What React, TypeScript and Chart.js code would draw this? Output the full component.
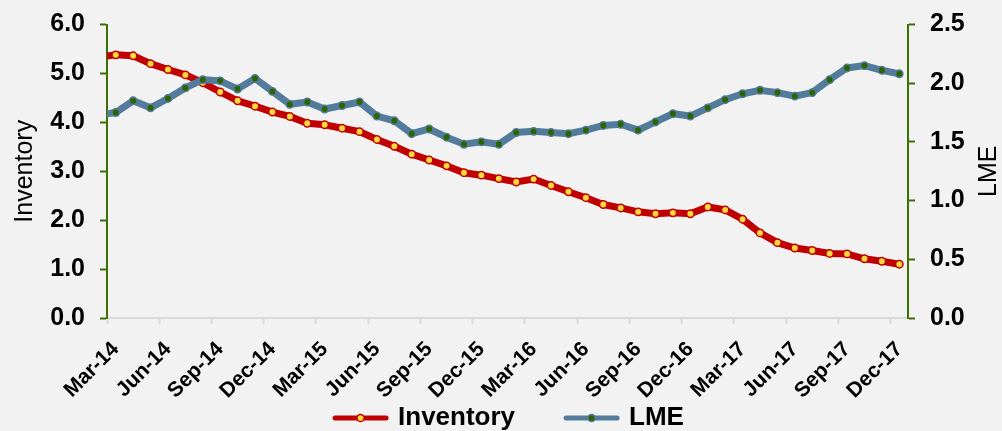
import React, { useEffect, useRef } from 'react';
import { Chart, registerables } from 'chart.js';

Chart.register(...registerables);

const months = [
  'Feb-14', 'Mar-14', 'Apr-14', 'May-14', 'Jun-14', 'Jul-14', 'Aug-14', 'Sep-14', 'Oct-14', 'Nov-14', 'Dec-14',
  'Jan-15', 'Feb-15', 'Mar-15', 'Apr-15', 'May-15', 'Jun-15', 'Jul-15', 'Aug-15', 'Sep-15', 'Oct-15', 'Nov-15', 'Dec-15',
  'Jan-16', 'Feb-16', 'Mar-16', 'Apr-16', 'May-16', 'Jun-16', 'Jul-16', 'Aug-16', 'Sep-16', 'Oct-16', 'Nov-16', 'Dec-16',
  'Jan-17', 'Feb-17', 'Mar-17', 'Apr-17', 'May-17', 'Jun-17', 'Jul-17', 'Aug-17', 'Sep-17', 'Oct-17', 'Nov-17', 'Dec-17',
];

const inventory = [
  5.33, 5.38, 5.36, 5.20, 5.08, 4.97, 4.81, 4.62, 4.44, 4.33, 4.21, 4.12, 3.98, 3.95, 3.88, 3.81,
  3.65, 3.51, 3.35, 3.23, 3.11, 2.97, 2.92, 2.85, 2.78, 2.84, 2.71, 2.58, 2.46, 2.32, 2.25, 2.17,
  2.13, 2.15, 2.13, 2.27, 2.21, 2.02, 1.74, 1.54, 1.43, 1.38, 1.32, 1.31, 1.21, 1.16, 1.10,
];

const lme = [
  1.73, 1.75, 1.85, 1.79, 1.87, 1.96, 2.03, 2.02, 1.95, 2.04, 1.93, 1.82, 1.84, 1.78, 1.81, 1.84,
  1.72, 1.68, 1.57, 1.61, 1.54, 1.48, 1.50, 1.48, 1.58, 1.59, 1.58, 1.57, 1.60, 1.64, 1.65, 1.60,
  1.67, 1.74, 1.72, 1.79, 1.86, 1.91, 1.94, 1.92, 1.89, 1.92, 2.03, 2.13, 2.15, 2.11, 2.08,
];

const leftTitle = 'Inventory';
const rightTitle = 'LME';
const leftTicks = [0, 1, 2, 3, 4, 5, 6];
const rightTicks = [0, 0.5, 1, 1.5, 2, 2.5];
const firstShown = 1; // Mar-14
const tickEvery = 3;

const FONT = '"Liberation Sans", Arial, Helvetica, sans-serif';
const RED = '#C00000';
const YELLOW = '#FFD83C';
const BLUE = '#527B9C';
const DKGREEN = '#2C6400';
const AXISGREEN = '#3C7000';
const GRAY = '#D9D9D9';
const BG = '#F2F2F2';

export default function App() {
  const ref = useRef<HTMLCanvasElement | null>(null);

  useEffect(() => {
    if (!ref.current) return;
    Chart.defaults.font.family = FONT;
    Chart.defaults.color = '#000';

    const rightTitlePlugin = {
      id: 'rightTitle',
      afterDraw(chart: any) {
        const s = chart.scales.y1;
        const area = chart.chartArea;
        const ctx = chart.ctx;
        ctx.save();
        ctx.translate(s.right - 13, (area.top + area.bottom) / 2);
        ctx.rotate(-Math.PI / 2);
        ctx.font = `25px ${FONT}`;
        ctx.fillStyle = '#000';
        ctx.textAlign = 'center';
        ctx.textBaseline = 'middle';
        ctx.fillText(rightTitle, 0, 0);
        ctx.restore();
      },
    };

    const legendPlugin = {
      id: 'lineLegend',
      afterDraw(chart: any) {
        const ctx = chart.ctx;
        const lineW = 57;
        const gapText = 9;
        const gapItem = 48;
        const cy = 418;
        ctx.save();
        ctx.font = `bold 26px ${FONT}`;
        const items = chart.data.datasets.map((ds: any) => ({
          ds,
          w: ctx.measureText(ds.label).width,
        }));
        const total =
          items.reduce((s: number, it: any) => s + lineW + gapText + it.w, 0) +
          gapItem * (items.length - 1);
        let x = 508 - total / 2;
        items.forEach((it: any) => {
          const ds = it.ds;
          ctx.strokeStyle = ds.borderColor;
          ctx.lineWidth = 5;
          ctx.lineCap = 'round';
          ctx.beginPath();
          ctx.moveTo(x + 3, cy);
          ctx.lineTo(x + lineW - 3, cy);
          ctx.stroke();
          ctx.beginPath();
          ctx.arc(x + lineW / 2, cy, 3.6, 0, Math.PI * 2);
          ctx.fillStyle = ds.pointBackgroundColor;
          ctx.fill();
          ctx.lineWidth = 1.5;
          ctx.strokeStyle = ds.pointBorderColor;
          ctx.stroke();
          ctx.fillStyle = '#000';
          ctx.textAlign = 'left';
          ctx.textBaseline = 'middle';
          ctx.fillText(ds.label, x + lineW + gapText, cy);
          x += lineW + gapText + it.w + gapItem;
        });
        ctx.restore();
      },
    };

    const yAxisCommon = (ticks: number[], width: number) => ({
      type: 'linear',
      afterBuildTicks: (scale: any) => {
        scale.ticks = ticks.map((v) => ({ value: v }));
      },
      afterFit: (scale: any) => {
        scale.width = width;
        scale.paddingTop = 12;
        scale.paddingBottom = 12;
      },
      ticks: {
        padding: 15,
        color: '#000',
        font: { size: 25, weight: 'bold' },
        callback: (v: any) => Number(v).toFixed(1),
      },
      grid: {
        drawOnChartArea: false,
        drawTicks: true,
        tickLength: 7,
        tickWidth: 2,
        tickColor: AXISGREEN,
      },
      border: { display: true, color: AXISGREEN, width: 2 },
    });

    const chart = new Chart(ref.current, {
      type: 'line',
      data: {
        datasets: [
          {
            label: 'Inventory',
            data: months.map((_, i) => ({ x: i, y: inventory[i] })),
            yAxisID: 'y',
            borderColor: RED,
            borderWidth: 7,
            pointRadius: 3.7,
            pointBorderWidth: 1.5,
            pointBackgroundColor: YELLOW,
            pointBorderColor: RED,
            tension: 0,
            order: 1,
          },
          {
            label: 'LME',
            data: months.map((_, i) => ({ x: i, y: lme[i] })),
            yAxisID: 'y1',
            borderColor: BLUE,
            borderWidth: 7,
            pointRadius: 3.7,
            pointBorderWidth: 1.5,
            pointBackgroundColor: DKGREEN,
            pointBorderColor: BLUE,
            tension: 0,
            order: 0,
          },
        ],
      },
      options: {
        responsive: false,
        animation: false,
        layout: { padding: { top: 24.5, bottom: 0, left: 0, right: 0 } },
        plugins: {
          tooltip: { enabled: false },
          legend: { display: false },
        },
        scales: {
          x: {
            type: 'linear',
            min: firstShown - 0.5,
            max: months.length - 0.5,
            afterBuildTicks: (scale: any) => {
              const t: any[] = [];
              for (let i = firstShown; i < months.length; i += tickEvery) {
                t.push({ value: i - 0.5 });
                t.push({ value: i });
              }
              scale.ticks = t;
            },
            afterFit: (scale: any) => {
              scale.height = 113;
            },
            ticks: {
              autoSkip: false,
              maxRotation: 45,
              minRotation: 45,
              padding: 13,
              color: '#000',
              font: { size: 21, weight: 'bold' },
              callback: (v: any) => (Number.isInteger(v) ? months[v] : ''),
            },
            grid: {
              drawOnChartArea: false,
              drawTicks: true,
              tickLength: 6,
              tickWidth: 2,
              tickColor: (ctx: any) =>
                ctx.tick && Number.isInteger(ctx.tick.value) ? 'rgba(0,0,0,0)' : GRAY,
            },
            border: { display: true, color: GRAY, width: 2 },
          },
          y: {
            ...yAxisCommon(leftTicks, 107),
            position: 'left',
            min: 0,
            max: 6,
            title: {
              display: true,
              text: leftTitle,
              color: '#000',
              padding: { top: 10, bottom: 0 },
              font: { size: 25, weight: 'normal' },
            },
          },
          y1: {
            ...yAxisCommon(rightTicks, 94),
            position: 'right',
            min: 0,
            max: 2.5,
          },
        },
      } as any,
      plugins: [rightTitlePlugin, legendPlugin],
    });

    return () => chart.destroy();
  }, []);

  return (
    <div
      style={{
        position: 'fixed',
        left: 0,
        top: 0,
        width: 1002,
        height: 431,
        background: BG,
      }}
    >
      <canvas ref={ref} width={1002} height={431} style={{ display: 'block' }} />
    </div>
  );
}
